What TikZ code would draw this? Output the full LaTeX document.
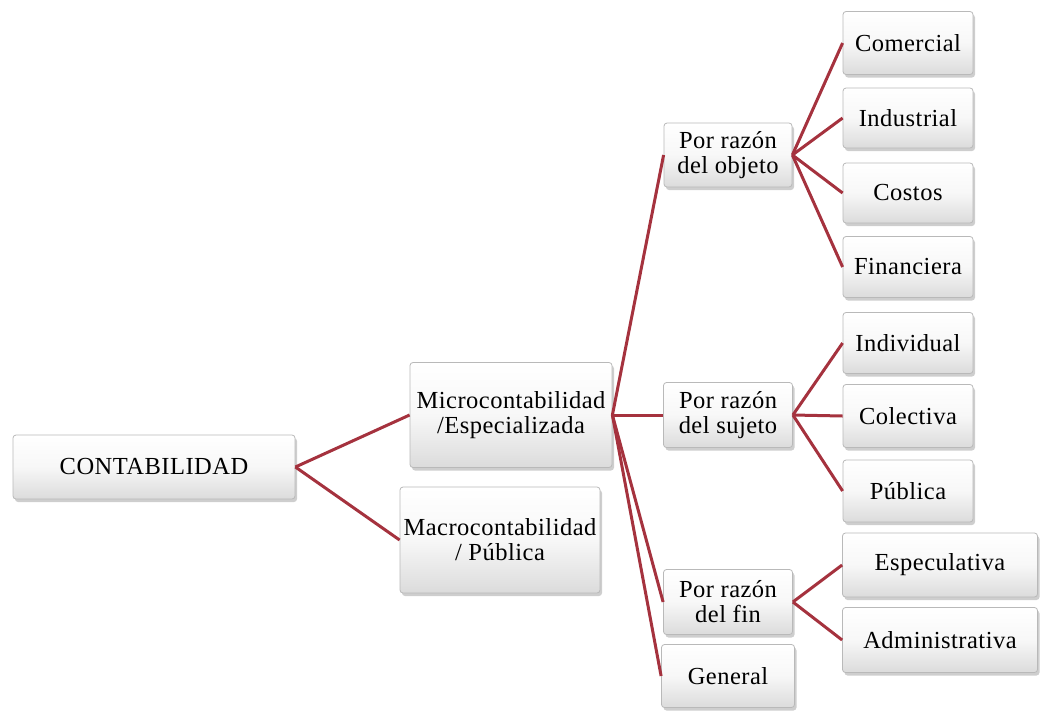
\documentclass[tikz,border=0pt]{standalone}
\usepackage{fontspec}
\setmainfont{Liberation Serif}[LetterSpace=2]
\usetikzlibrary{shadows}
\definecolor{linkred}{RGB}{165,50,62}
\tikzset{
  bx/.style={draw=gray!55, line width=0.8pt, rounded corners=3pt,
    top color=white, bottom color=gray!28, middle color=gray!6,
    drop shadow={shadow xshift=2pt, shadow yshift=-3pt, fill=gray!70, opacity=0.55},
    align=center, inner sep=0pt, font=\fontsize{24.5}{25}\selectfont},
  link/.style={draw=linkred, line width=3pt},
}
\begin{document}
\begin{tikzpicture}[x=1pt,y=-1pt]
\useasboundingbox (0,0) rectangle (1042,710);
\node[bx, minimum width=282, minimum height=64] (cont) at (154,467) {CONTABILIDAD};
\node[bx, minimum width=202, minimum height=105] (micro) at (511,415) {Microcontabilidad\\/Especializada};
\node[bx, minimum width=200, minimum height=106] (macro) at (500,540) {Macrocontabilidad\\/ Pública};
\node[bx, minimum width=128, minimum height=64] (pobj) at (728,155) {Por razón\\del objeto};
\node[bx, minimum width=129, minimum height=65] (psuj) at (728,415) {Por razón\\del sujeto};
\node[bx, minimum width=129, minimum height=65] (pfin) at (728,602) {Por razón\\del fin};
\node[bx, minimum width=133, minimum height=63] (gen) at (728,676) {General};
\node[bx, minimum width=130, minimum height=63] (com) at (908,43) {Comercial};
\node[bx, minimum width=130, minimum height=60] (ind) at (908,118) {Industrial};
\node[bx, minimum width=130, minimum height=60] (cos) at (908,193) {Costos};
\node[bx, minimum width=130, minimum height=61] (fina) at (908,267) {Financiera};
\node[bx, minimum width=130, minimum height=61] (indiv) at (908,343) {Individual};
\node[bx, minimum width=130, minimum height=63] (col) at (908,416) {Colectiva};
\node[bx, minimum width=130, minimum height=62] (pub) at (908,491) {Pública};
\node[bx, minimum width=195, minimum height=64] (esp) at (940,565) {Especulativa};
\node[bx, minimum width=195, minimum height=65] (adm) at (940,640) {Administrativa};
\draw[link] (cont.east) -- (micro.west);
\draw[link] (cont.east) -- (macro.west);
\draw[link] (micro.east) -- (pobj.west);
\draw[link] (micro.east) -- (psuj.west);
\draw[link] (micro.east) -- (pfin.west);
\draw[link] (micro.east) -- (gen.west);
\draw[link] (pobj.east) -- (com.west);
\draw[link] (pobj.east) -- (ind.west);
\draw[link] (pobj.east) -- (cos.west);
\draw[link] (pobj.east) -- (fina.west);
\draw[link] (psuj.east) -- (indiv.west);
\draw[link] (psuj.east) -- (col.west);
\draw[link] (psuj.east) -- (pub.west);
\draw[link] (pfin.east) -- (esp.west);
\draw[link] (pfin.east) -- (adm.west);
\end{tikzpicture}
\end{document}
